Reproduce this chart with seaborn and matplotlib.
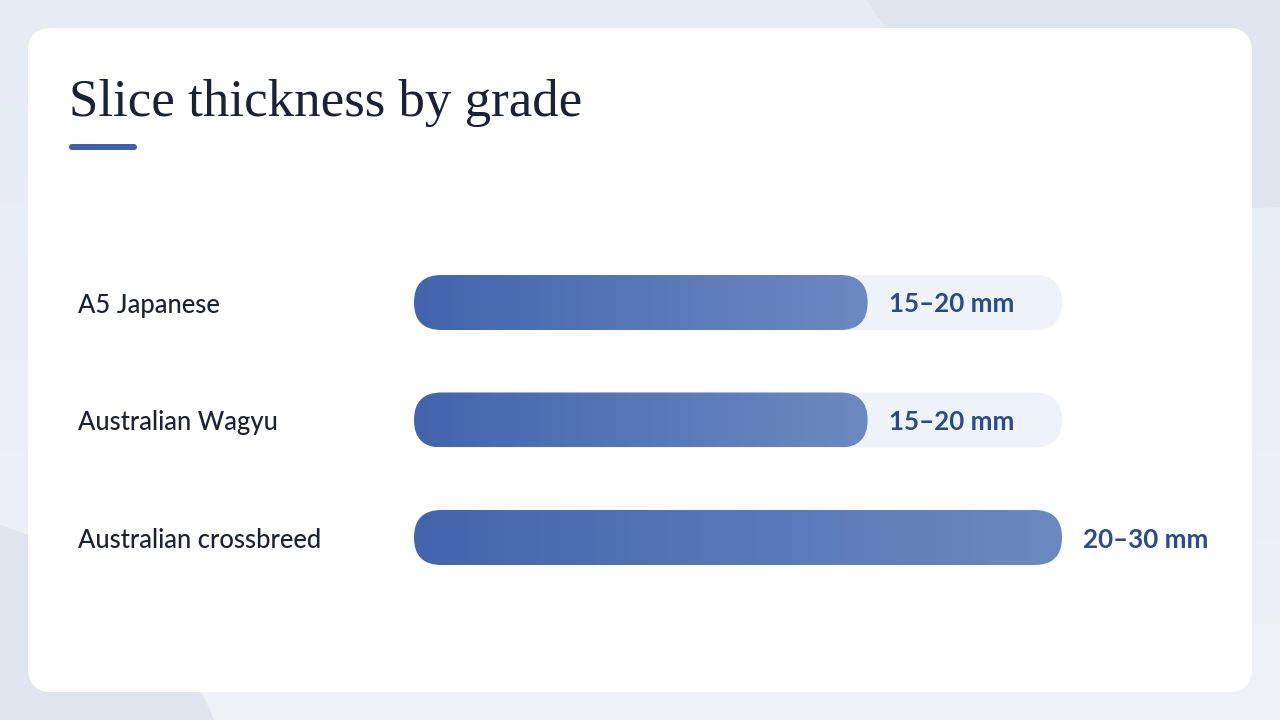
import numpy as np
import pandas as pd
import matplotlib
matplotlib.use("Agg")
import matplotlib.pyplot as plt
import seaborn as sns
from matplotlib.patches import FancyBboxPatch, Circle
from matplotlib.colors import LinearSegmentedColormap
from matplotlib.transforms import blended_transform_factory

# ---- data ----
categories = ["A5 Japanese", "Australian Wagyu", "Australian crossbreed"]
low_mm = [15, 15, 20]
high_mm = [20, 20, 30]
value_labels = ["15–20 mm", "15–20 mm", "20–30 mm"]
title = "Slice thickness by grade"

mid_mm = [(lo + hi) / 2 for lo, hi in zip(low_mm, high_mm)]
axis_max = max(mid_mm)

# ---- style ----
sns.set_theme(style="white")
plt.rcParams["font.family"] = ["Lato", "DejaVu Sans"]

BG_TOP = "#e7ebf3"
BG_BOT = "#eff2f7"
BG_DARK = "#dfe4ee"
TRACK = "#eef2f9"
GRAD_L = "#4365ae"
GRAD_R = "#6c89c1"
VAL_COL = "#2b4a8a"
CAT_COL = "#1b2235"
TITLE_COL = "#1a2238"

W, H = 1280, 720
fig = plt.figure(figsize=(W / 100, H / 100), dpi=100, facecolor=BG_TOP)

def px(v):
    return v * 72 / 100

# background layer in pixel coords
bg = fig.add_axes([0, 0, 1, 1])
bg.set_xlim(0, W)
bg.set_ylim(H, 0)
bg.axis("off")
vgrad = np.linspace(0, 1, 256).reshape(-1, 1)
bg.imshow(vgrad, cmap=LinearSegmentedColormap.from_list("bg", [BG_TOP, BG_BOT]),
          extent=(0, W, H, 0), aspect="auto", zorder=0)
bg.add_patch(Circle((1250, -250), 458, color=BG_DARK, lw=0, zorder=0.5))
bg.add_patch(Circle((-100, 850), 340, color=BG_DARK, lw=0, zorder=0.5))
bg.add_patch(FancyBboxPatch((28, 28), 1224, 664,
                            boxstyle="round,pad=0,rounding_size=24",
                            fc="white", ec="none", zorder=1))
bg.text(69, 116, title, fontsize=px(53), family=["Liberation Serif", "DejaVu Serif"],
        color=TITLE_COL, ha="left", va="baseline", zorder=2)
bg.add_patch(FancyBboxPatch((69, 144), 68, 6,
                            boxstyle="round,pad=0,rounding_size=3",
                            fc="#3b63ad", ec="none", zorder=2))
bg.set_xlim(0, W)
bg.set_ylim(H, 0)

# ---- main chart axes ----
ax_left, ax_right = 414, 1062
ax_top, ax_bot = 185, 655
ax = fig.add_axes([ax_left / W, (H - ax_bot) / H,
                   (ax_right - ax_left) / W, (ax_bot - ax_top) / H])
ax.patch.set_alpha(0)

df = pd.DataFrame({"grade": categories, "mid": mid_mm,
                   "track": [axis_max] * len(categories)})
bar_w = 55 / 117.5
sns.barplot(data=df, y="grade", x="track", orient="h", color=TRACK,
            width=bar_w, ax=ax, saturation=1)
sns.barplot(data=df, y="grade", x="mid", orient="h", color=GRAD_L,
            width=bar_w, ax=ax, saturation=1)
ax.set_xlim(0, axis_max)
ax.set_ylim(len(categories), -1)
ax.axis("off")

xpp = axis_max / (ax_right - ax_left)
ypp = (len(categories) + 1) / (ax_bot - ax_top)
aspect = ypp / xpp

cmap = LinearSegmentedColormap.from_list("g", [GRAD_L, GRAD_R])
grad = np.linspace(0, 1, 256).reshape(1, -1)

patches = list(ax.patches)
n = len(categories)
for i, p in enumerate(patches):
    x, y, w, h = p.get_x(), p.get_y(), p.get_width(), p.get_height()
    p.remove()
    r = h / (2 * aspect) * 0.999
    fb = FancyBboxPatch((x, y), w, h,
                        boxstyle=f"round,pad=0,rounding_size={r}",
                        mutation_aspect=aspect, lw=0,
                        fc=TRACK if i < n else "none", ec="none",
                        zorder=1 if i < n else 2)
    ax.add_patch(fb)
    if i >= n:
        im = ax.imshow(grad, cmap=cmap, extent=(x, x + w, y + h, y),
                       aspect="auto", zorder=2, interpolation="bilinear")
        im.set_clip_path(fb)
        j = i - n
        ax.annotate(value_labels[j], xy=(x + w, y + h / 2), xytext=(21, 0),
                    textcoords="offset pixels", ha="left", va="center_baseline",
                    fontsize=px(26), fontweight="bold", color=VAL_COL, zorder=3)

ax.set_xlim(0, axis_max)
ax.set_ylim(len(categories), -1)

trans = blended_transform_factory(fig.transFigure, ax.transData)
for k, cat in enumerate(categories):
    ax.text(78 / W, k, cat, transform=trans, ha="left", va="center_baseline",
            fontsize=px(25.5), fontweight="medium", color=CAT_COL, clip_on=False)

fig.savefig("out.png", dpi=100, facecolor=BG_TOP)
